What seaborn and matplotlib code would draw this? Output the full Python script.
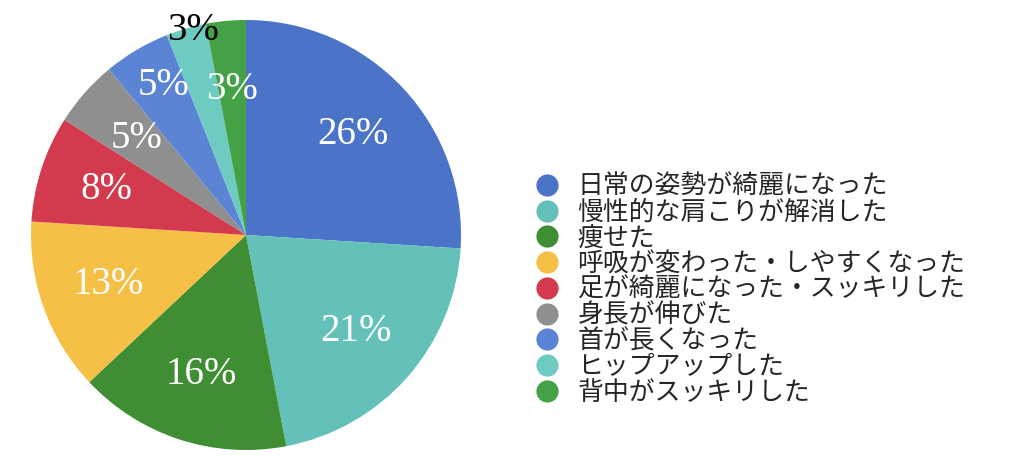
import numpy as np
import matplotlib
matplotlib.use("Agg")
import matplotlib.pyplot as plt
from matplotlib.lines import Line2D
import seaborn as sns

labels = ["日常の姿勢が綺麗になった", "慢性的な肩こりが解消した", "痩せた",
          "呼吸が変わった・しやすくなった", "足が綺麗になった・スッキリした",
          "身長が伸びた", "首が長くなった", "ヒップアップした", "背中がスッキリした"]
values = [26, 21, 16, 13, 8, 5, 5, 3, 3]
colors = ["#4B73C8", "#63C1B9", "#408E33", "#F6C046", "#D33A4D",
          "#8F8F8F", "#5C84D5", "#6ECBC1", "#45A145"]

sns.set_style("white")
plt.rcParams['font.family'] = ['Noto Sans CJK JP', 'DejaVu Sans']

fig = plt.figure(figsize=(10.24, 4.66), dpi=100)
ax = fig.add_axes([31 / 1024, 16 / 466, 430 / 1024, 430 / 466])

wedges, texts, autotexts = ax.pie(
    values, colors=sns.color_palette(colors), startangle=90, counterclock=False,
    autopct='%d%%', pctdistance=0.68, wedgeprops=dict(linewidth=0),
    textprops=dict(color="white", fontsize=28, family="Liberation Serif"))
ax.set_xlim(-1, 1)
ax.set_ylim(-1, 1)
ax.set_aspect("equal")

# small slices get their labels pushed outward
dist = {6: 0.81, 7: 0.99}
for i, w in enumerate(wedges):
    if i in dist:
        a = np.deg2rad((w.theta1 + w.theta2) / 2)
        autotexts[i].set_position((dist[i] * np.cos(a) + 0.03, dist[i] * np.sin(a)))
autotexts[7].set_color("black")

handles = [Line2D([], [], marker='o', linestyle='none', markersize=16,
                  markerfacecolor=c, markeredgewidth=0) for c in colors]
fig.legend(handles, labels, loc="center left", bbox_to_anchor=(531 / 1024, 0.379),
           frameon=False, fontsize=18.6, labelspacing=-0.05, handletextpad=0.6,
           handlelength=1.2, borderaxespad=0, borderpad=0)

fig.savefig("out.png", dpi=100)
